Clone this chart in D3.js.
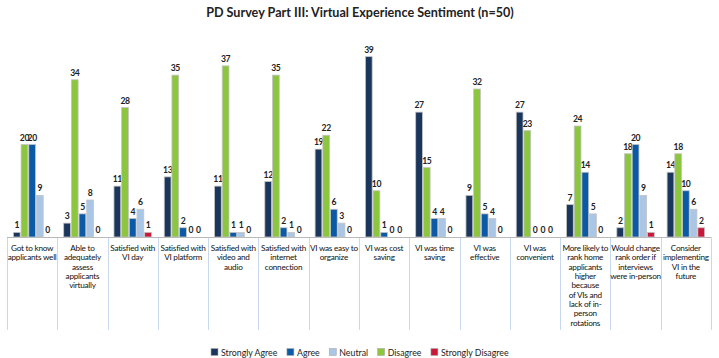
<!DOCTYPE html>
<html><head><meta charset="utf-8">
<script src="https://cdn.jsdelivr.net/npm/d3@7"></script>
<style>body{margin:0;background:#fff}svg{display:block}text{font-family:"Lato","Noto Sans",sans-serif}</style>
</head><body><svg id="c" width="719" height="358"></svg>
<script>
const categories = [
  "Got to know\napplicants well",
  "Able to\nadequately\nassess\napplicants\nvirtually",
  "Satisfied with\nVI day",
  "Satisfied with\nVI platform",
  "Satisfied with\nvideo and\naudio",
  "Satisfied with\ninternet\nconnection",
  "VI was easy to\norganize",
  "VI was cost\nsaving",
  "VI was time\nsaving",
  "VI was\neffective",
  "VI was\nconvenient",
  "More likely to\nrank home\napplicants\nhigher\nbecause\nof VIs and\nlack of in-\nperson\nrotations",
  "Would change\nrank order if\ninterviews\nwere in-person",
  "Consider\nimplementing\nVI in the\nfuture"
];
const seriesNames = ["Strongly Agree","Agree","Neutral","Disagree","Strongly Disagree"];
const barOrder = ["Strongly Agree","Disagree","Agree","Neutral","Strongly Disagree"];
const stronglyAgree    = [1,3,11,13,11,12,19,39,27,9,27,7,2,14];
const disagree         = [20,34,28,35,37,35,22,10,15,32,23,24,18,18];
const agree            = [20,5,4,2,1,2,6,1,4,5,0,14,20,10];
const neutral          = [9,8,6,0,1,1,3,0,4,4,0,5,9,6];
const stronglyDisagree = [0,0,1,0,0,0,0,0,0,0,0,0,1,2];
const colors = {"Strongly Agree":"#1b365d","Agree":"#0b5aa6","Neutral":"#a9c6e6","Disagree":"#8cc63f","Strongly Disagree":"#c8193a"};
const valuesBy = {"Strongly Agree":stronglyAgree,"Agree":agree,"Neutral":neutral,"Disagree":disagree,"Strongly Disagree":stronglyDisagree};

const svg = d3.select("#c");
const L=7, R=711, base=237;
const x0 = d3.scaleBand().domain(d3.range(categories.length)).range([L,R]);
const x1 = d3.scaleBand().domain(barOrder).range([0,37.5]).paddingInner(0.12);
const y = d3.scaleLinear().domain([0,40]).range([base,52]);

svg.append("text").attr("x",360).attr("y",17).attr("text-anchor","middle")
  .attr("font-size",12.6).attr("font-weight","bold").attr("fill","#222")
  .text("PD Survey Part III: Virtual Experience Sentiment (n=50)");

// dividers
const divs = d3.range(categories.length+1).map(i=> i<categories.length ? x0(i) : R);
svg.selectAll("line.div").data(divs).join("line")
  .attr("x1",d=>Math.round(d)+0.5).attr("x2",d=>Math.round(d)+0.5)
  .attr("y1",base).attr("y2",330).attr("stroke","#c9d8ec").attr("stroke-width",1);
svg.append("line").attr("x1",L).attr("x2",R).attr("y1",base+0.5).attr("y2",base+0.5).attr("stroke","#b8b8b8");

const g = svg.selectAll("g.cat").data(categories).join("g")
  .attr("transform",(d,i)=>`translate(${x0(i)+(x0.bandwidth()-37.5)/2},0)`);
g.each(function(c,i){
  const gg = d3.select(this);
  barOrder.forEach(s=>{
    const v = valuesBy[s][i];
    gg.append("rect").attr("x",x1(s)).attr("width",x1.bandwidth())
      .attr("y",y(v)).attr("height",base-y(v))
      .attr("fill",colors[s]).attr("stroke", v>0?"#c4c4c4":"none").attr("stroke-width",0.8);
    gg.append("text").attr("x",x1(s)+x1.bandwidth()/2).attr("y",y(v)-4)
      .attr("text-anchor","middle").attr("font-size",8.6).attr("font-weight","bold").attr("fill","#222")
      .attr("letter-spacing",-0.4)
      .text(v);
  });
});
// category labels
categories.forEach((c,i)=>{
  const t = svg.append("text").attr("text-anchor","middle").attr("font-size",8.2).attr("fill","#111")
    .attr("letter-spacing",-0.25);
  c.split("\n").forEach((ln,k)=>{
    t.append("tspan").attr("x",x0(i)+x0.bandwidth()/2).attr("y",251+k*9.35).text(ln);
  });
});
// legend
const lg = svg.append("g").attr("transform","translate(211,353)");
let lx=0;
seriesNames.forEach(s=>{
  const it = lg.append("g").attr("transform",`translate(${lx},0)`);
  it.append("rect").attr("x",0).attr("y",-4.5).attr("width",7).attr("height",7).attr("fill",colors[s]).attr("stroke","#aaa").attr("stroke-width",0.6);
  const t = it.append("text").attr("x",10).attr("y",2.5).attr("font-size",8.8).attr("fill","#222").text(s);
  lx += 10 + t.node().getComputedTextLength() + 9.5;
});
</script></body></html>
